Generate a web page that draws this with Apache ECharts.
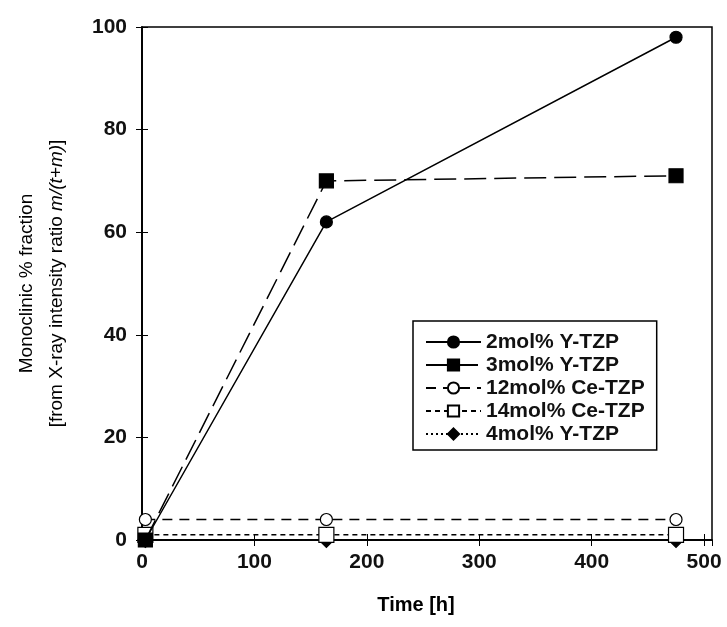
<!DOCTYPE html>
<html>
<head>
<meta charset="utf-8">
<script src="https://cdn.jsdelivr.net/npm/echarts@6/dist/echarts.min.js"></script>
<style>
  body { margin: 0; background: #fff; }
  #main { width: 727px; height: 627px; }
</style>
</head>
<body>
<div id="main"></div>
<script>
/* data */
var seriesNames = ['2mol% Y-TZP', '3mol% Y-TZP', '12mol% Ce-TZP', '14mol% Ce-TZP', '4mol% Y-TZP'];
var timeH = [3, 164, 475];
var y2Y = [0, 62, 98];
var y3Y = [0, 70, 71];
var y12Ce = [4, 4, 4];
var y14Ce = [1, 1, 1];
var y4Y = [0, 0, 0];
var xTicks = [0, 100, 200, 300, 400, 500];
var yTicks = [0, 20, 40, 60, 80, 100];

var pairs = function (ys) {
    var out = [];
    ys.forEach(function (v, i) { out.push([timeH[i], v]); });
    return out;
};

var box = document.getElementById('main');
var myChart = echarts.init(box);

var font = 'Liberation Sans, Arial, sans-serif';
var styles = [
    { symbol: 'circle', size: 12, fill: '#000', type: 'solid' },
    { symbol: 'rect', size: 14, fill: '#000', type: [22, 8] },
    { symbol: 'circle', size: 12, fill: '#fff', type: [10, 7] },
    { symbol: 'rect', size: 15, fill: '#fff', type: [5, 4] },
    { symbol: 'diamond', size: 15, fill: '#000', type: [2, 3] }
];
var allData = [y2Y, y3Y, y12Ce, y14Ce, y4Y];

var series = seriesNames.map(function (name, i) {
    var s = styles[i];
    return {
        name: name,
        type: 'line',
        data: pairs(allData[i]),
        symbol: s.symbol,
        symbolSize: s.size,
        showAllSymbol: true,
        itemStyle: { color: s.fill, borderColor: '#000', borderWidth: 1.2 },
        lineStyle: { color: '#000', width: 1.5, type: s.type },
        z: 10 - i
    };
});

/* only label the round hundreds, the frame runs a bit past 500 */
var xLabel = function (v) {
    return xTicks.indexOf(v) >= 0 ? String(v) : '';
};
var tickLabel = { fontFamily: font, fontWeight: 'bold', fontSize: 21, color: '#111' };

var options = {
    animation: false,
    backgroundColor: '#fff',
    grid: {
        left: 142, right: 15, top: 27, bottom: 87,
        show: true, borderColor: '#000', borderWidth: 1.5
    },
    legend: {
        data: seriesNames,
        orient: 'vertical',
        left: 413, top: 321,
        padding: [10, 12, 5, 12],
        itemGap: 1,
        itemWidth: 55,
        itemHeight: 14,
        borderColor: '#000',
        borderWidth: 1.5,
        backgroundColor: '#fff',
        textStyle: { fontFamily: font, fontWeight: 'bold', fontSize: 21, lineHeight: 22, color: '#111' }
    },
    xAxis: [{
        type: 'value',
        min: xTicks[0], max: 507, interval: 100,
        name: 'Time [h]',
        nameLocation: 'middle',
        nameGap: 55,
        nameTextStyle: { fontFamily: font, fontWeight: 'bold', fontSize: 20, color: '#000', padding: [0, 22, 0, 0] },
        axisLine: { lineStyle: { color: '#000', width: 1.5 } },
        axisTick: { inside: true, length: 6, lineStyle: { color: '#000' } },
        axisLabel: Object.assign({ margin: 12, formatter: xLabel, showMaxLabel: false }, tickLabel),
        splitLine: { show: false }
    }, {
        type: 'value', position: 'top',
        min: xTicks[0], max: 507, interval: 100,
        axisLine: { lineStyle: { color: '#000', width: 1.5 } },
        axisTick: { inside: true, length: 6, lineStyle: { color: '#000' } },
        axisLabel: { show: false },
        splitLine: { show: false }
    }],
    yAxis: [{
        type: 'value',
        min: yTicks[0], max: yTicks[yTicks.length - 1], interval: 20,
        name: '{n|Monoclinic % fraction}\n{n|[from X-ray intensity ratio }{i|m/(t+m)}{n|]}',
        nameLocation: 'middle',
        nameGap: 70,
        nameTextStyle: {
            color: '#000',
            rich: {
                n: { fontFamily: font, fontSize: 19, color: '#000', lineHeight: 30 },
                i: { fontFamily: font, fontSize: 19, fontStyle: 'italic', color: '#000', lineHeight: 30 }
            }
        },
        axisLine: { lineStyle: { color: '#000', width: 1.5 } },
        axisTick: { inside: true, length: 6, lineStyle: { color: '#000' } },
        axisLabel: Object.assign({ margin: 15 }, tickLabel),
        splitLine: { show: false }
    }, {
        type: 'value', position: 'right',
        min: yTicks[0], max: yTicks[yTicks.length - 1], interval: 20,
        axisLine: { lineStyle: { color: '#000', width: 1.5 } },
        axisTick: { inside: true, length: 6, lineStyle: { color: '#000' } },
        axisLabel: { show: false },
        splitLine: { show: false }
    }],
    series: series
};
myChart.setOption(options);
</script>
</body>
</html>
